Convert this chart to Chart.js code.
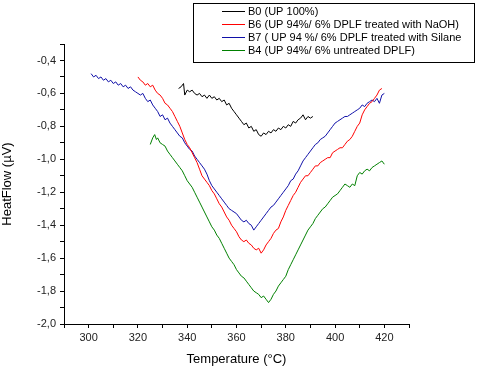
<!DOCTYPE html>
<html>
<head>
<meta charset="utf-8">
<script src="https://cdn.jsdelivr.net/npm/chart.js@4.4.1/dist/chart.umd.min.js"></script>
<style>
html,body{margin:0;padding:0;background:#fff;}
canvas{display:block;}
</style>
</head>
<body>
<canvas id="c" width="480" height="372"></canvas>
<script>
// ---- data ----
const seriesLabels = [
  "B0 (UP 100%)",
  "B6 (UP 94%/ 6% DPLF treated with NaOH)",
  "B7 ( UP 94 %/ 6% DPLF treated with Silane",
  "B4 (UP 94%/ 6% untreated DPLF)"
];

const b0Temp = [336.5,337.5,338.5,339,340,341,342,343,344,345,346,347,348,349,350,351,352,353,354,355,356,357,358,359,360,361,362,363,364,365,366,367,368,369,370,371,372,373,374,375,376,377,378,379,380,381,382,383,384,385,386,387,388,389,390,391];
const b0Flow = [-0.57,-0.56,-0.54,-0.61,-0.58,-0.59,-0.58,-0.60,-0.61,-0.60,-0.62,-0.61,-0.63,-0.61,-0.63,-0.62,-0.64,-0.63,-0.65,-0.64,-0.67,-0.66,-0.69,-0.71,-0.73,-0.75,-0.77,-0.79,-0.78,-0.81,-0.80,-0.83,-0.82,-0.85,-0.86,-0.84,-0.85,-0.83,-0.84,-0.82,-0.83,-0.81,-0.82,-0.80,-0.81,-0.79,-0.80,-0.77,-0.78,-0.76,-0.75,-0.73,-0.76,-0.74,-0.75,-0.74];

const b6Temp = [320,321,322,323,324,325,326,327,328,329,330,331,332,333,334,335,336,337,338,339,340,341,342,343,344,345,346,347,348,349,350,351,352,353,354,355,356,357,358,359,360,361,362,363,364,365,366,367,368,369,370,371,372,373,374,375,376,377,378,379,380,381,382,383,384,385,386,387,388,389,390,391,392,393,394,395,396,397,398,399,400,401,402,403,404,405,406,407,408,409,410,411,412,413,414,415,416,417,418,419];
const b6Flow = [-0.50,-0.52,-0.53,-0.55,-0.54,-0.56,-0.55,-0.58,-0.60,-0.61,-0.63,-0.66,-0.67,-0.69,-0.71,-0.74,-0.77,-0.80,-0.84,-0.88,-0.91,-0.93,-0.96,-0.99,-1.02,-1.06,-1.10,-1.12,-1.14,-1.16,-1.19,-1.21,-1.24,-1.27,-1.29,-1.32,-1.35,-1.37,-1.40,-1.42,-1.44,-1.47,-1.49,-1.50,-1.49,-1.51,-1.52,-1.54,-1.55,-1.54,-1.57,-1.55,-1.52,-1.50,-1.48,-1.45,-1.43,-1.42,-1.38,-1.35,-1.31,-1.28,-1.25,-1.22,-1.20,-1.17,-1.14,-1.12,-1.10,-1.10,-1.08,-1.06,-1.04,-1.04,-1.02,-1.01,-1.00,-0.99,-0.99,-0.96,-0.95,-0.94,-0.93,-0.93,-0.91,-0.89,-0.88,-0.86,-0.83,-0.80,-0.78,-0.73,-0.70,-0.68,-0.66,-0.65,-0.63,-0.61,-0.58,-0.57];

const b7Temp = [301,302,303,304,305,306,307,308,309,310,311,312,313,314,315,316,317,318,319,320,321,322,323,324,325,326,327,328,329,330,331,332,333,334,335,336,337,338,339,340,341,342,343,344,345,346,347,348,349,350,351,352,353,354,355,356,357,358,359,360,361,362,363,364,365,366,367,368,369,370,371,372,373,374,375,376,377,378,379,380,381,382,383,384,385,386,387,388,389,390,391,392,393,394,395,396,397,398,399,400,401,402,403,404,405,406,407,408,409,410,411,412,413,414,415,416,417,418,419,420];
const b7Flow = [-0.48,-0.50,-0.49,-0.51,-0.50,-0.52,-0.51,-0.53,-0.52,-0.54,-0.53,-0.55,-0.54,-0.56,-0.55,-0.57,-0.56,-0.58,-0.59,-0.60,-0.61,-0.60,-0.63,-0.65,-0.64,-0.67,-0.69,-0.71,-0.74,-0.73,-0.76,-0.75,-0.78,-0.80,-0.82,-0.84,-0.86,-0.87,-0.90,-0.92,-0.94,-0.95,-0.98,-1.00,-1.02,-1.04,-1.06,-1.09,-1.13,-1.16,-1.18,-1.20,-1.22,-1.24,-1.26,-1.28,-1.30,-1.31,-1.32,-1.33,-1.35,-1.37,-1.38,-1.37,-1.39,-1.40,-1.43,-1.41,-1.39,-1.37,-1.35,-1.33,-1.31,-1.29,-1.28,-1.26,-1.24,-1.22,-1.20,-1.18,-1.16,-1.13,-1.12,-1.09,-1.07,-1.04,-1.01,-0.99,-0.97,-0.95,-0.93,-0.91,-0.90,-0.88,-0.87,-0.86,-0.84,-0.82,-0.80,-0.78,-0.77,-0.76,-0.75,-0.74,-0.74,-0.73,-0.72,-0.71,-0.70,-0.69,-0.67,-0.68,-0.66,-0.65,-0.64,-0.65,-0.63,-0.66,-0.61,-0.60];

const b4Temp = [325,326,326.8,327.5,328,329,330,331,332,333,334,335,336,337,338,339,340,341,342,343,344,345,346,347,348,349,350,351,352,353,354,355,356,357,358,359,360,361,362,363,364,365,366,367,368,369,370,371,372,373,374,375,376,377,378,379,380,381,382,383,384,385,386,387,388,389,390,391,392,393,394,395,396,397,398,399,400,401,402,403,404,405,406,407,408,409,410,411,412,413,414,415,416,417,418,419,420];
const b4Flow = [-0.91,-0.87,-0.85,-0.88,-0.87,-0.90,-0.91,-0.92,-0.95,-0.97,-0.99,-1.01,-1.03,-1.05,-1.07,-1.10,-1.13,-1.15,-1.17,-1.20,-1.23,-1.26,-1.29,-1.32,-1.35,-1.38,-1.41,-1.43,-1.46,-1.48,-1.51,-1.54,-1.57,-1.60,-1.62,-1.64,-1.67,-1.69,-1.71,-1.72,-1.74,-1.76,-1.78,-1.80,-1.81,-1.82,-1.84,-1.83,-1.85,-1.87,-1.85,-1.82,-1.80,-1.77,-1.75,-1.73,-1.71,-1.67,-1.64,-1.61,-1.58,-1.55,-1.52,-1.49,-1.46,-1.43,-1.41,-1.39,-1.36,-1.34,-1.32,-1.30,-1.29,-1.27,-1.25,-1.23,-1.22,-1.21,-1.19,-1.17,-1.15,-1.16,-1.17,-1.15,-1.16,-1.10,-1.08,-1.09,-1.07,-1.06,-1.07,-1.05,-1.04,-1.03,-1.02,-1.01,-1.03];

const xTickLabels = [300,320,340,360,380,400,420];
const yTickLabels = [-0.4,-0.6,-0.8,-1.0,-1.2,-1.4,-1.6,-1.8,-2.0];

const FONT = "'Liberation Sans', Arial, sans-serif";

function pts(t, v) { return t.map((x, i) => ({x: x, y: v[i]})); }

const colors = ['#000000', '#ff0000', '#1010a8', '#008000'];
const datasets = [
  {label: seriesLabels[0], data: pts(b0Temp, b0Flow)},
  {label: seriesLabels[1], data: pts(b6Temp, b6Flow)},
  {label: seriesLabels[2], data: pts(b7Temp, b7Flow)},
  {label: seriesLabels[3], data: pts(b4Temp, b4Flow)}
].map((d, i) => Object.assign(d, {
  borderColor: colors[i], backgroundColor: colors[i], borderWidth: 1,
  pointRadius: 0, tension: 0, fill: false
}));

const boxLegend = {
  id: 'boxLegend',
  afterDraw(chart) {
    const ctx = chart.ctx;
    ctx.save();
    ctx.strokeStyle = '#000';
    ctx.lineWidth = 1;
    ctx.strokeRect(193.5, 3.5, 281, 59);
    ctx.font = '11px ' + FONT;
    ctx.textBaseline = 'middle';
    ctx.fillStyle = '#000';
    chart.data.datasets.forEach((ds, i) => {
      const y = 11 + i * 13;
      ctx.strokeStyle = ds.borderColor;
      ctx.beginPath();
      ctx.moveTo(222, y + 0.5);
      ctx.lineTo(245, y + 0.5);
      ctx.stroke();
      ctx.fillText(ds.label, 248, y + 0.5);
    });
    ctx.restore();
  }
};

new Chart(document.getElementById('c'), {
  type: 'line',
  data: {datasets: datasets},
  plugins: [boxLegend],
  options: {
    responsive: false,
    animation: false,
    devicePixelRatio: 1,
    layout: {padding: {left: 0, right: 71, top: 44, bottom: 0}},
    plugins: {legend: {display: false}, tooltip: {enabled: false}},
    scales: {
      x: {
        type: 'linear', min: 290, max: 430,
        afterFit(s) { s.height = 48; },
        border: {display: true, color: '#000', width: 1},
        grid: {display: true, drawOnChartArea: false, drawTicks: true, tickLength: 4, color: '#000'},
        ticks: {
          stepSize: 10, padding: 3, color: '#222', maxRotation: 0, autoSkip: false,
          font: {family: FONT, size: 11},
          callback: v => xTickLabels.includes(v) ? String(v) : ''
        },
        title: {display: true, text: 'Temperature (°C)', color: '#000', font: {family: FONT, size: 13}, padding: {top: 0, bottom: 5}}
      },
      y: {
        type: 'linear', min: -2.0, max: -0.3,
        afterFit(s) { s.width = 64; },
        border: {display: true, color: '#000', width: 1},
        grid: {display: true, drawOnChartArea: false, drawTicks: true, tickLength: 4, color: '#000'},
        ticks: {
          stepSize: 0.1, padding: 4, color: '#222', autoSkip: false,
          font: {family: FONT, size: 11},
          callback: v => {
            const r = Math.round(v * 10) / 10;
            return yTickLabels.some(t => Math.abs(t - r) < 1e-6) ? r.toFixed(1).replace('.', ',') : '';
          }
        },
        title: {display: true, text: 'HeatFlow (µV)', color: '#000', font: {family: FONT, size: 13}, padding: {top: 0, bottom: 0}}
      }
    }
  }
});
</script>
</body>
</html>
